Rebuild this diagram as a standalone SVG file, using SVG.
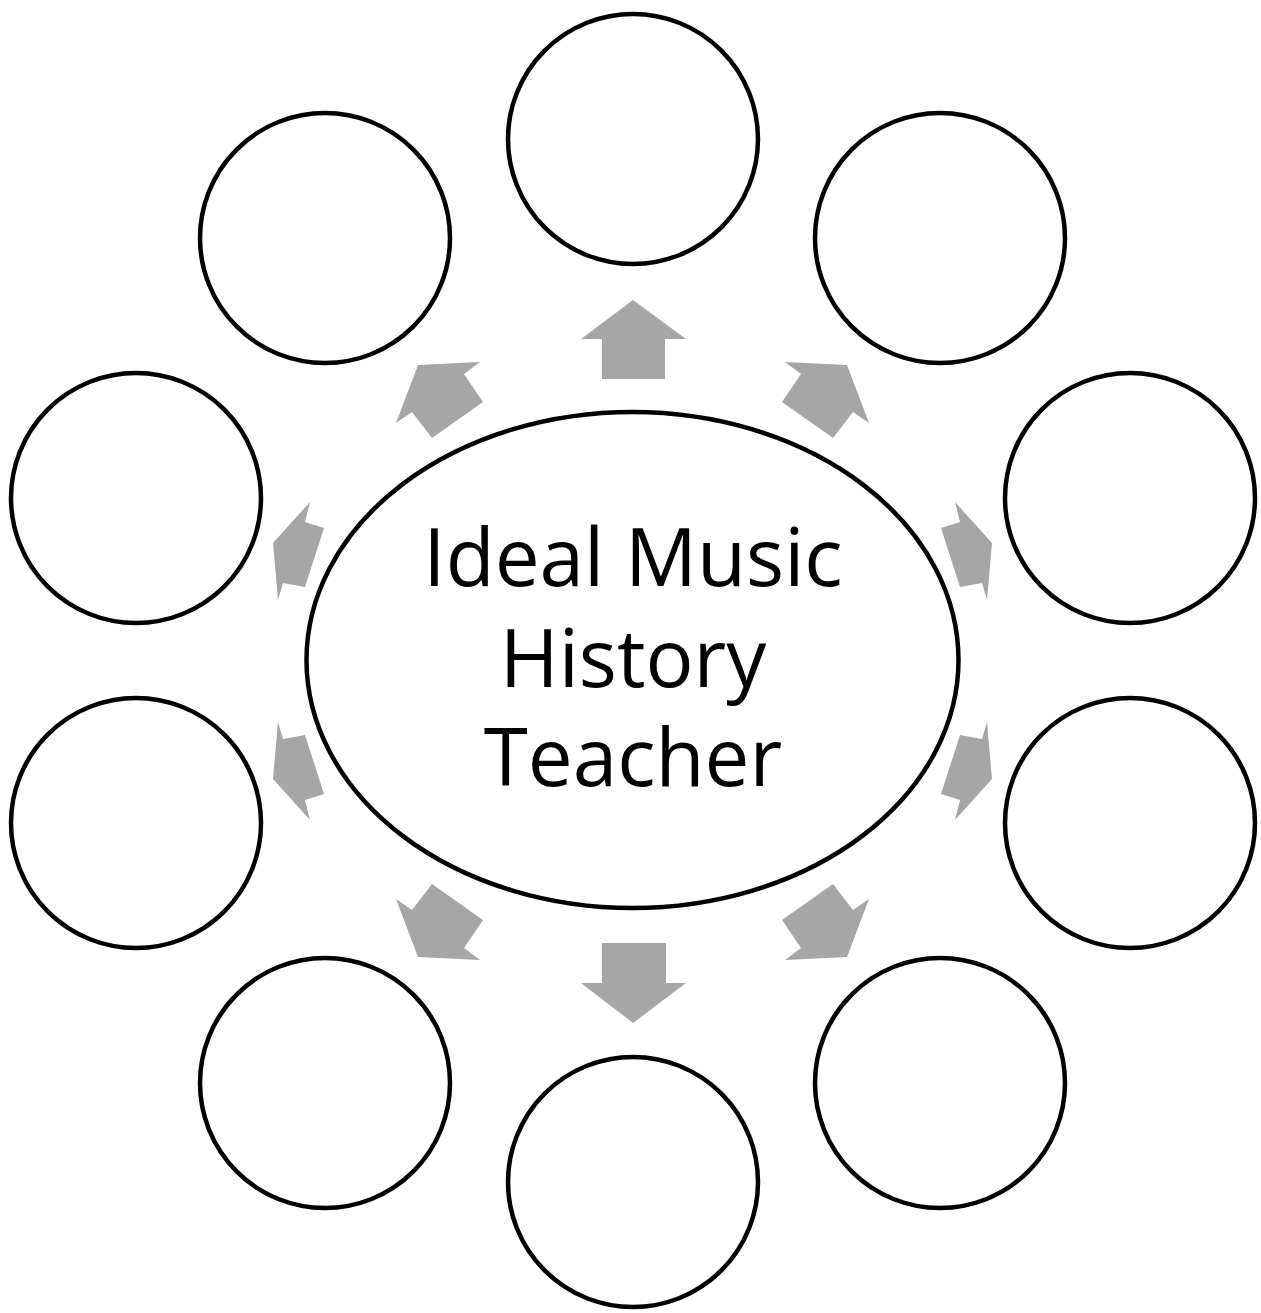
<svg xmlns="http://www.w3.org/2000/svg" width="1261" height="1313" viewBox="0 0 1261 1313">
<style>
.node{fill:#fff;stroke:#000;stroke-width:4.5}
.arr{fill:#a6a6a6;stroke:none}
.lbl{font-family:"Open Sans","Liberation Sans",sans-serif;font-size:80px;fill:#000;text-anchor:middle}
</style>
<rect width="1261" height="1313" fill="#fff"/>
<g id="connectors">
<polygon class="arr" points="633,300 686,339 665,339 665,379 602,379 602,339 581,339"/>
<polygon class="arr" points="633,1023 686,983 666,983 666,943 602,943 602,983 581,983"/>
<polygon class="arr" points="418,365 480,362 464,374 483,402 432,438 412,412 396,423"/>
<polygon class="arr" points="847,365 785,362 801,374 782,402 833,438 853,412 869,423"/>
<polygon class="arr" points="418,957 480,960 464,948 483,920 432,884 412,910 396,899"/>
<polygon class="arr" points="847,957 785,960 801,948 782,920 833,884 853,910 869,899"/>
<polygon class="arr" points="273,543 310,502 305,522 324,528 305,587 283,583 278,600"/>
<polygon class="arr" points="992,543 955,502 960,522 941,528 960,587 982,583 987,600"/>
<polygon class="arr" points="273,779 310,820 305,800 324,794 305,735 283,739 278,722"/>
<polygon class="arr" points="992,779 955,820 960,800 941,794 960,735 982,739 987,722"/>
</g>
<g id="center">
<ellipse class="node" cx="632.5" cy="660" rx="326" ry="248"/>
<text class="lbl" x="633" y="586">Ideal Music</text>
<text class="lbl" x="633" y="687">History</text>
<text class="lbl" x="633" y="786">Teacher</text>
</g>
<g id="n1"><circle class="node" cx="633" cy="139" r="125"/></g>
<g id="n2"><circle class="node" cx="940" cy="238" r="125"/></g>
<g id="n3"><circle class="node" cx="1130" cy="498" r="125"/></g>
<g id="n4"><circle class="node" cx="1130" cy="823" r="125"/></g>
<g id="n5"><circle class="node" cx="940" cy="1083" r="125"/></g>
<g id="n6"><circle class="node" cx="633" cy="1182" r="125"/></g>
<g id="n7"><circle class="node" cx="325" cy="1083" r="125"/></g>
<g id="n8"><circle class="node" cx="136" cy="823" r="125"/></g>
<g id="n9"><circle class="node" cx="136" cy="498" r="125"/></g>
<g id="n10"><circle class="node" cx="325" cy="238" r="125"/></g>
</svg>
